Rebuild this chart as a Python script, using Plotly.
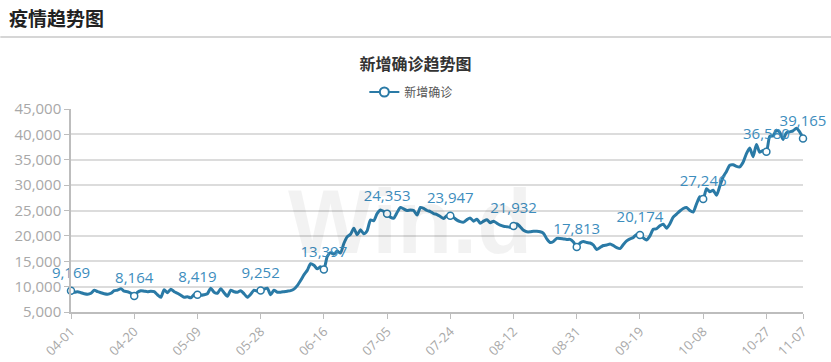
import plotly.graph_objects as go
from datetime import date, timedelta

start = date(2021, 4, 1)
n_days = 221
dates = [(start + timedelta(days=i)).strftime("%m-%d") for i in range(n_days)]

values = [
    9169, 8900, 9000, 8800, 8600, 8500, 8700, 9300, 9000, 8800,
    8600, 8500, 8700, 9200, 9300, 9600, 9100, 9000, 8700, 8164,
    8900, 9200, 9100, 9000, 9100, 9000, 8400, 7900, 9400, 8800,
    9500, 9000, 8700, 8300, 7900, 8000, 7800, 8400, 8419,
    8300, 8400, 8600, 9700, 8900, 8700, 9600, 8800, 8100, 9300,
    9000, 8900, 9200, 8600, 7900, 8500, 9300, 9100, 9252,
    9500, 9700, 8400, 9300, 8900, 8900, 9000, 9100, 9200, 9500,
    10200, 11200, 12300, 13200, 14500, 14200, 13500, 13900, 13397,
    15900, 16700, 16400, 17000, 16600, 18500, 19800, 20300, 21500, 20200,
    21200, 20400, 21000, 23100, 23000, 24400, 25100, 24800, 24353,
    23700, 23500, 24600, 25600, 25300, 25000, 25100, 25000, 24100, 25600,
    25400, 25000, 24800, 24400, 24200, 23800, 23400, 24000, 23947,
    23600, 23100, 22800, 22700, 23200, 23500, 22900, 23300, 22500, 22900,
    23200, 22600, 22900, 22500, 22100, 21900, 21800, 21700, 21932,
    22400, 21800, 21100, 20800, 20800, 20900, 20900, 20800, 20500, 19400,
    18700, 18900, 19500, 19500, 19400, 19300, 19300, 18800, 17813,
    18600, 18900, 18700, 18600, 18200, 17300, 17700, 18100, 18200, 18400,
    18100, 17700, 17500, 18300, 19000, 19400, 19700, 20300, 20174,
    19600, 19200, 20000, 21300, 21400, 22000, 22300, 21500, 22400, 23700,
    24300, 24900, 25400, 25600, 25000, 24700, 26300, 27700, 27246,
    29300, 28700, 29000, 28000, 29800, 31600, 32700, 33900, 34000, 33700,
    33600, 34500, 36200, 37300, 35600, 38000, 36500, 36800, 36580,
    39600, 39700, 40800, 40400, 39000, 40300, 40500, 40700, 41200, 40500,
    39165,
]

label_idx = list(range(0, n_days, 19)) + [n_days - 1]
y_ticks = list(range(5000, 45001, 5000))

LINE = "#2a7aa6"
LABEL = "#3d8dbd"
GRAY = "#a8a8a8"

xs = list(range(n_days))

fig = go.Figure()
fig.add_trace(go.Scatter(
    x=xs, y=values, mode="lines", showlegend=False, hoverinfo="skip",
    line=dict(color=LINE, width=3, shape="spline", smoothing=0.6),
))
fig.add_trace(go.Scatter(
    x=label_idx, y=[values[i] for i in label_idx], mode="markers",
    showlegend=False, cliponaxis=False, hoverinfo="skip",
    marker=dict(size=7, color="white", line=dict(color=LINE, width=1.5)),
))
# labels: invisible larger markers push the text a little higher
fig.add_trace(go.Scatter(
    x=label_idx, y=[values[i] for i in label_idx], mode="markers+text",
    showlegend=False, cliponaxis=False, hoverinfo="skip",
    text=[f"{values[i]:,}" for i in label_idx], textposition="top center",
    textfont=dict(color=LABEL, size=15, family="Open Sans, Noto Sans"),
    marker=dict(size=13, opacity=0),
))
fig.add_trace(go.Scatter(
    x=[None], y=[None], mode="lines+markers", name="新增确诊",
    line=dict(color=LINE, width=2),
    marker=dict(size=9, color="white", line=dict(color=LINE, width=2)),
))

W, H = 831, 362
L, R, T, B = 70.7, 803, 109, 312
pw, ph = R - L, B - T

def px_to_paper_x(px):
    return (px - L) / pw

def px_to_paper_y(py):
    return (B - py) / ph

fig.update_layout(
    width=W, height=H,
    margin=dict(l=L, r=W - R, t=T, b=H - B, pad=0, autoexpand=False),
    paper_bgcolor="white", plot_bgcolor="white",
    title=dict(text="<b>新增确诊趋势图</b>", x=0.5, xref="container",
               y=1 - 64 / H, yref="container", xanchor="center", yanchor="middle",
               font=dict(size=16, color="#333", family="Noto Sans CJK SC")),
    legend=dict(orientation="h", xref="container", yref="container",
                x=0.495, y=1 - 92 / H, xanchor="center", yanchor="middle",
                font=dict(size=12, color="#555", family="Noto Sans CJK SC"),
                bgcolor="rgba(0,0,0,0)", itemwidth=30),
    xaxis=dict(range=[0, n_days - 1], tickmode="array", tickvals=label_idx,
               ticktext=[dates[i] for i in label_idx], tickangle=-45,
               automargin=False,
               showgrid=False, zeroline=False, showline=True, linecolor="#bdbdbd",
               linewidth=1.5, ticks="outside", ticklen=5, tickcolor="#bdbdbd",
               tickfont=dict(size=13, color=GRAY, family="Open Sans, Noto Sans")),
    yaxis=dict(range=[5000, 45000], tickmode="array", tickvals=y_ticks,
               ticktext=[f"{v:,}" for v in y_ticks], automargin=False,
               showgrid=True, gridcolor="#dcdcdc", gridwidth=1.5, zeroline=False,
               showline=True, linecolor="#bdbdbd", linewidth=1.5,
               ticks="outside", ticklen=5, tickcolor="#bdbdbd",
               tickfont=dict(size=15, color=GRAY, family="Open Sans, Noto Sans")),
    annotations=[
        dict(text="<b>疫情趋势图</b>", xref="paper", yref="paper",
             x=px_to_paper_x(7), y=px_to_paper_y(17), xanchor="left", yanchor="middle",
             showarrow=False, font=dict(size=19, color="#222", family="Noto Sans CJK SC")),
        dict(text="<b>Win.d</b>", xref="paper", yref="paper",
             x=px_to_paper_x(410), y=px_to_paper_y(222), xanchor="center", yanchor="middle",
             showarrow=False, font=dict(size=90, color="rgba(0,0,0,0.05)", family="Arial")),
    ],
    shapes=[
        dict(type="line", xref="paper", yref="paper",
             x0=px_to_paper_x(0), x1=px_to_paper_x(W),
             y0=px_to_paper_y(37), y1=px_to_paper_y(37),
             line=dict(color="#c8c8c8", width=1.5)),
    ],
)

fig.write_html("out.html")
